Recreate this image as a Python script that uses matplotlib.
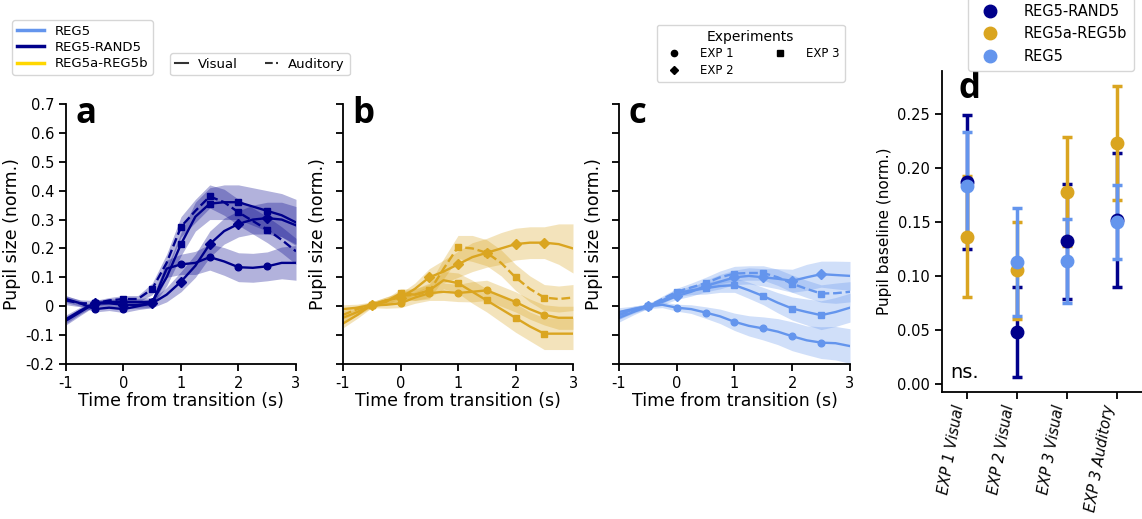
import numpy as np
import matplotlib.pyplot as plt
from matplotlib.lines import Line2D

# time axis (s) of the pupil traces
t = [-1, -0.75, -0.5, -0.25, 0, 0.25, 0.5, 0.75, 1, 1.25, 1.5, 1.75, 2, 2.25, 2.5, 2.75, 3]

conds = ['EXP 1 Visual', 'EXP 2 Visual', 'EXP 3 Visual', 'EXP 3 Auditory']
cond_marker = ['o', 'D', 's', 's']
cond_ls = ['-', '-', '-', '--']

# panel a : REG5-RAND5
a_exp1v = [0.025, 0.01, -0.01, -0.005, -0.01, 0.0, 0.01, 0.13, 0.145, 0.15, 0.17, 0.155, 0.135, 0.133, 0.138, 0.15, 0.15]
a_exp2v = [-0.05, -0.02, 0.01, 0.01, 0.005, 0.005, 0.01, 0.04, 0.085, 0.14, 0.215, 0.26, 0.285, 0.3, 0.305, 0.3, 0.28]
a_exp3v = [-0.045, -0.015, 0.01, 0.015, 0.015, 0.015, 0.015, 0.1, 0.215, 0.31, 0.355, 0.36, 0.36, 0.345, 0.33, 0.315, 0.29]
a_exp3a = [0.02, 0.01, 0.01, 0.02, 0.025, 0.025, 0.06, 0.15, 0.275, 0.33, 0.38, 0.36, 0.325, 0.295, 0.265, 0.23, 0.19]
a_sem1 = [0.012, 0.01, 0.01, 0.01, 0.012, 0.012, 0.015, 0.03, 0.035, 0.04, 0.045, 0.048, 0.05, 0.05, 0.05, 0.055, 0.06]
a_sem2 = [0.015, 0.012, 0.01, 0.01, 0.012, 0.012, 0.015, 0.025, 0.035, 0.04, 0.045, 0.045, 0.045, 0.05, 0.055, 0.06, 0.065]
a_sem3 = [0.015, 0.012, 0.01, 0.01, 0.012, 0.012, 0.015, 0.03, 0.04, 0.05, 0.055, 0.06, 0.06, 0.065, 0.07, 0.075, 0.08]
a_sem4 = [0.015, 0.012, 0.01, 0.01, 0.012, 0.012, 0.02, 0.03, 0.035, 0.04, 0.04, 0.045, 0.045, 0.045, 0.045, 0.045, 0.045]

# panel b : REG5a-REG5b
b_exp1v = [-0.01, -0.005, 0.005, 0.005, 0.01, 0.03, 0.045, 0.05, 0.046, 0.05, 0.055, 0.035, 0.015, -0.01, -0.03, -0.04, -0.04]
b_exp2v = [-0.06, -0.03, 0.005, 0.02, 0.03, 0.06, 0.1, 0.12, 0.145, 0.17, 0.185, 0.2, 0.215, 0.22, 0.22, 0.215, 0.2]
b_exp3v = [-0.04, -0.02, 0.005, 0.015, 0.045, 0.04, 0.055, 0.09, 0.08, 0.05, 0.02, -0.01, -0.04, -0.07, -0.095, -0.095, -0.095]
b_exp3a = [-0.03, -0.01, 0.005, 0.02, 0.035, 0.04, 0.05, 0.13, 0.205, 0.2, 0.185, 0.15, 0.1, 0.06, 0.03, 0.025, 0.03]
b_sem1 = [0.015, 0.012, 0.01, 0.012, 0.015, 0.02, 0.025, 0.03, 0.03, 0.035, 0.035, 0.035, 0.035, 0.035, 0.035, 0.04, 0.04]
b_sem2 = [0.015, 0.012, 0.01, 0.012, 0.015, 0.02, 0.03, 0.04, 0.045, 0.05, 0.05, 0.055, 0.055, 0.055, 0.055, 0.07, 0.085]
b_sem3 = [0.015, 0.012, 0.01, 0.012, 0.015, 0.02, 0.025, 0.03, 0.035, 0.04, 0.04, 0.045, 0.05, 0.05, 0.055, 0.055, 0.055]
b_sem4 = [0.015, 0.012, 0.01, 0.012, 0.015, 0.02, 0.025, 0.035, 0.04, 0.045, 0.045, 0.045, 0.045, 0.045, 0.045, 0.045, 0.045]

# panel c : REG5
c_exp1v = [-0.03, -0.01, 0.0, 0.005, -0.005, -0.01, -0.022, -0.035, -0.054, -0.068, -0.077, -0.088, -0.104, -0.118, -0.126, -0.128, -0.138]
c_exp2v = [-0.04, -0.02, 0.0, 0.015, 0.035, 0.05, 0.07, 0.085, 0.1, 0.105, 0.1, 0.095, 0.088, 0.1, 0.111, 0.108, 0.105]
c_exp3v = [-0.02, -0.01, 0.0, 0.02, 0.045, 0.055, 0.062, 0.07, 0.073, 0.055, 0.035, 0.012, -0.008, -0.02, -0.031, -0.02, -0.005]
c_exp3a = [-0.03, -0.015, 0.0, 0.025, 0.05, 0.065, 0.08, 0.1, 0.113, 0.115, 0.115, 0.1, 0.078, 0.06, 0.044, 0.045, 0.05]
c_sem1 = [0.015, 0.01, 0.008, 0.01, 0.012, 0.015, 0.02, 0.025, 0.03, 0.035, 0.04, 0.045, 0.05, 0.05, 0.055, 0.058, 0.06]
c_sem2 = [0.015, 0.01, 0.008, 0.01, 0.012, 0.015, 0.02, 0.025, 0.025, 0.028, 0.03, 0.035, 0.04, 0.045, 0.045, 0.048, 0.05]
c_sem3 = [0.015, 0.01, 0.008, 0.01, 0.012, 0.015, 0.02, 0.022, 0.025, 0.028, 0.03, 0.035, 0.04, 0.045, 0.05, 0.05, 0.05]
c_sem4 = [0.015, 0.01, 0.008, 0.01, 0.012, 0.015, 0.02, 0.022, 0.025, 0.025, 0.025, 0.028, 0.03, 0.03, 0.03, 0.035, 0.035]

# panel d : pupil baseline, mean and error per condition
d_rand_mean = [0.187, 0.048, 0.132, 0.152]
d_rand_err = [0.062, 0.042, 0.053, 0.062]
d_ab_mean = [0.136, 0.105, 0.178, 0.223]
d_ab_err = [0.056, 0.045, 0.050, 0.053]
d_reg5_mean = [0.183, 0.113, 0.114, 0.150]
d_reg5_err = [0.050, 0.050, 0.039, 0.034]

navy = '#00008B'
gold = '#DAA520'
blue = '#6495ED'

yticks = [-0.2, -0.1, 0, 0.1, 0.2, 0.3, 0.4, 0.5, 0.6, 0.7]
ytick_labels = ['-0.2', '-0.1', '0', '0.1', '0.2', '0.3', '0.4', '0.5', '0.6', '0.7']
xticks = [-1, 0, 1, 2, 3]
xtick_labels = ['-1', '0', '1', '2', '3']

W, H = 1142, 519
fig = plt.figure(figsize=(W / 100, H / 100), dpi=100)


def box(l, t_, r, b):
    return [l / W, 1 - b / H, (r - l) / W, (b - t_) / H]


panels = [
    ('a', box(66, 104, 296, 364), navy, [a_exp1v, a_exp2v, a_exp3v, a_exp3a], [a_sem1, a_sem2, a_sem3, a_sem4]),
    ('b', box(343, 104, 573, 364), gold, [b_exp1v, b_exp2v, b_exp3v, b_exp3a], [b_sem1, b_sem2, b_sem3, b_sem4]),
    ('c', box(619, 104, 850, 364), blue, [c_exp1v, c_exp2v, c_exp3v, c_exp3a], [c_sem1, c_sem2, c_sem3, c_sem4]),
]

tt = np.array(t)
for i, (lab, pos, col, means, sems) in enumerate(panels):
    ax = fig.add_axes(pos)
    for k in range(4):
        m = np.array(means[k])
        s = np.array(sems[k])
        ax.fill_between(tt, m - s, m + s, color=col, alpha=0.3, lw=0)
        ax.plot(tt, m, color=col, ls=cond_ls[k], lw=1.7, marker=cond_marker[k],
                ms=4.8, markevery=slice(2, 15, 2))
    ax.set_xlim(-1, 3)
    ax.set_ylim(-0.2, 0.7)
    ax.set_yticks(yticks)
    ax.set_xticks(xticks)
    ax.set_xticklabels(xtick_labels, fontsize=10.5)
    if i == 0:
        ax.set_yticklabels(ytick_labels, fontsize=10.5)
    else:
        ax.set_yticklabels([])
    ax.set_xlabel('Time from transition (s)', fontsize=12.5, labelpad=1)
    ax.set_ylabel('Pupil size (norm.)', fontsize=12.5, labelpad=3)
    ax.spines['top'].set_visible(False)
    ax.spines['right'].set_visible(False)
    ax.spines['left'].set_linewidth(1.3)
    ax.spines['bottom'].set_linewidth(1.3)
    ax.tick_params(width=1.3, length=5)
    ax.text(0.04, 1.03, lab, transform=ax.transAxes, fontsize=25, fontweight='bold',
            family='Open Sans', va='top', ha='left')

# panel d
axd = fig.add_axes(box(942, 71, 1142, 392))
x = np.arange(len(conds))
for mean, err, col in [(d_rand_mean, d_rand_err, navy),
                       (d_ab_mean, d_ab_err, gold),
                       (d_reg5_mean, d_reg5_err, blue)]:
    axd.errorbar(x, mean, yerr=err, fmt='o', color=col, ms=9, elinewidth=2.5,
                 capsize=3.5, capthick=2.5)
axd.set_xlim(-0.5, 3.5)
axd.set_xticks(x)
axd.set_xticklabels(conds, rotation=80, ha='right', fontsize=10.5, style='italic')
axd.set_yticks([0, 0.05, 0.1, 0.15, 0.2, 0.25])
axd.set_yticklabels(['0.00', '0.05', '0.10', '0.15', '0.20', '0.25'], fontsize=10.5)
axd.set_ylabel('Pupil baseline (norm.)', fontsize=11)
axd.spines['top'].set_visible(False)
axd.spines['right'].set_visible(False)
axd.spines['left'].set_linewidth(1.3)
axd.spines['bottom'].set_linewidth(1.3)
axd.tick_params(width=1.3, length=5)
axd.text(0.08, 1.0, 'd', transform=axd.transAxes, fontsize=25, fontweight='bold',
         family='Open Sans', va='top', ha='left')
axd.text(0.04, 0.03, 'ns.', transform=axd.transAxes, fontsize=14, va='bottom', ha='left')

d_handles = [Line2D([], [], color=c, marker='o', ls='none', ms=9) for c in (navy, gold, blue)]
fig.legend(d_handles, ['REG5-RAND5', 'REG5a-REG5b', 'REG5'], loc='lower right',
           bbox_to_anchor=(1134 / W, 1 - 71 / H), fontsize=10.5,
           handletextpad=1.3, borderaxespad=0, labelspacing=0.5, borderpad=0.5)

# colour legend
col_handles = [Line2D([], [], color=blue, lw=2.5),
               Line2D([], [], color=navy, lw=2.5),
               Line2D([], [], color='#FFD700', lw=2.5)]
fig.legend(col_handles, ['REG5', 'REG5-RAND5', 'REG5a-REG5b'], loc='upper left',
           bbox_to_anchor=(12 / W, 1 - 20 / H), fontsize=9.5, borderaxespad=0,
           labelspacing=0.25, handlelength=2.1, borderpad=0.35)

# line style legend
ls_handles = [Line2D([], [], color='#333333', lw=1.5, ls='-'),
              Line2D([], [], color='#333333', lw=1.5, ls='--')]
fig.legend(ls_handles, ['Visual', 'Auditory'], loc='upper left', ncol=2,
           bbox_to_anchor=(170 / W, 1 - 53 / H), fontsize=9.5, borderaxespad=0,
           handlelength=1.0, borderpad=0.35, columnspacing=2.0)

# experiment marker legend
exp_handles = [Line2D([], [], color='k', marker='o', ls='none', ms=4.5),
               Line2D([], [], color='k', marker='D', ls='none', ms=4.5),
               Line2D([], [], color='k', marker='s', ls='none', ms=4.5)]
fig.legend(exp_handles, ['EXP 1', 'EXP 2', 'EXP 3'], loc='upper left', ncol=2,
           bbox_to_anchor=(657 / W, 1 - 25 / H), fontsize=8.5, title='Experiments',
           title_fontsize=10, borderaxespad=0, labelspacing=0.3, columnspacing=3.0,
           handletextpad=1.2)

fig.savefig('out.png', dpi=100)
